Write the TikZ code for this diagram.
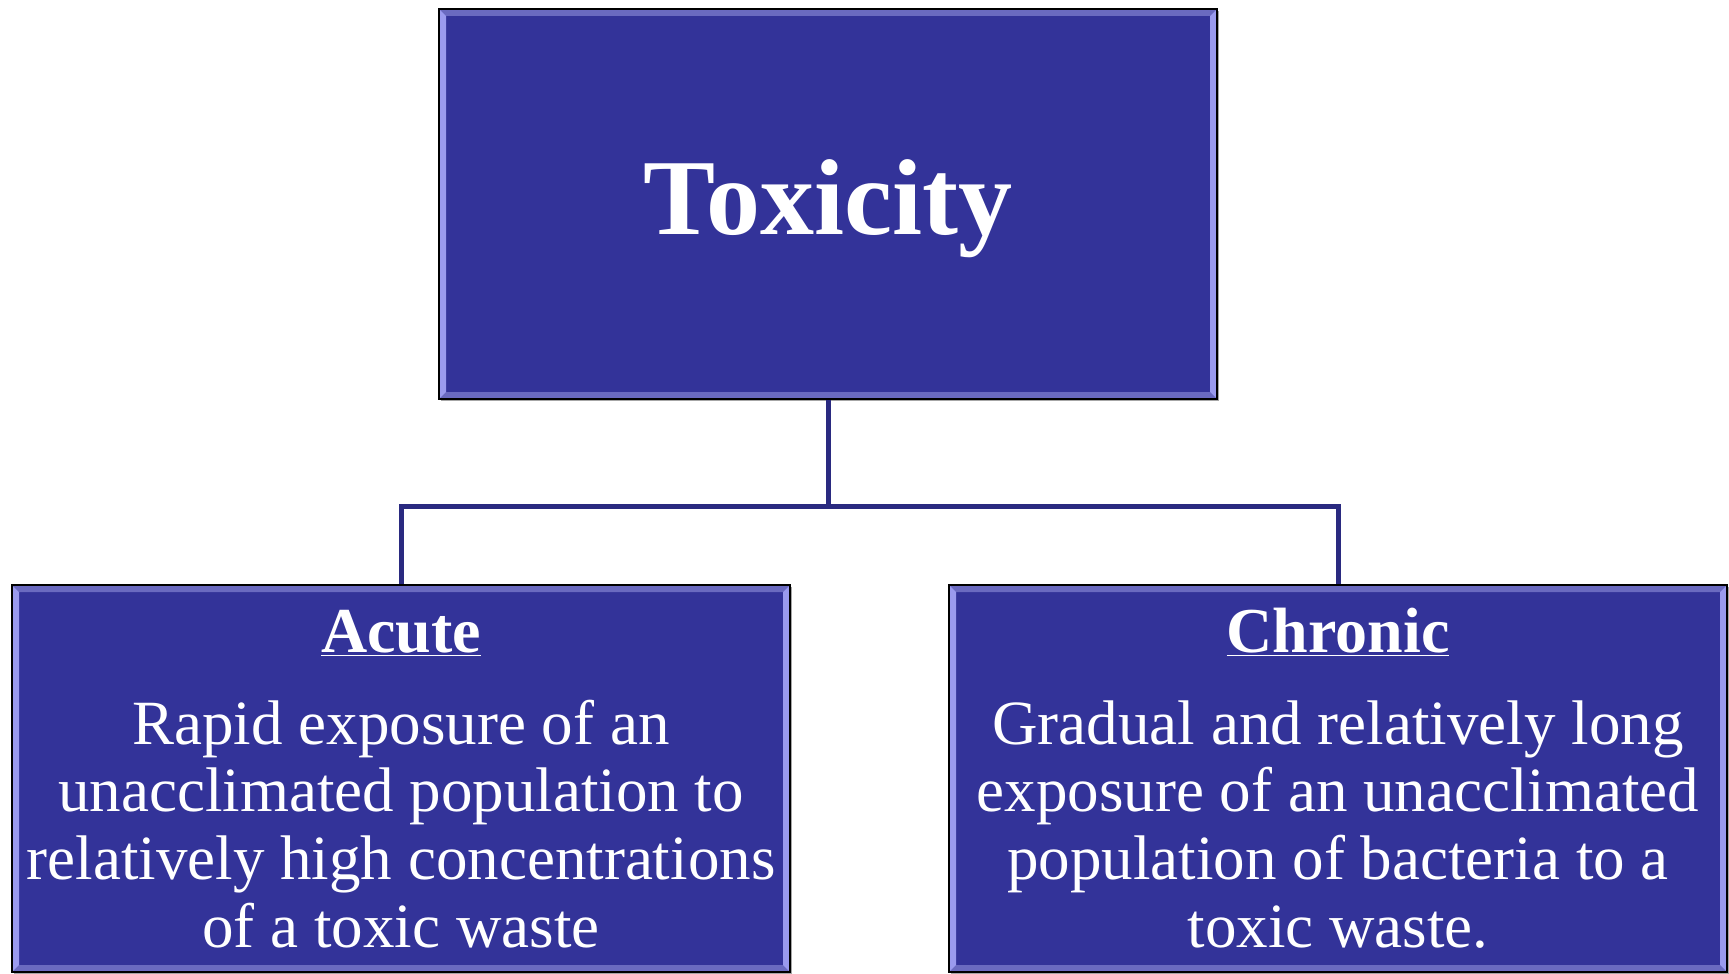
\documentclass[tikz,border=0pt]{standalone}
\usepackage{fontspec}
\setmainfont{Liberation Serif}
\usetikzlibrary{shadows}
\definecolor{boxblue}{HTML}{333399}
\definecolor{linkblue}{HTML}{2A2A80}
\definecolor{bevlight}{HTML}{9A9AEE}
\definecolor{bevmid}{HTML}{6A6AC0}
\tikzset{
  box/.style={draw=black, line width=1pt, fill=boxblue, inner sep=0pt,
    drop shadow={shadow xshift=1pt, shadow yshift=-1pt, opacity=.35, fill=black},
    path picture={
      \fill[bevmid] (path picture bounding box.north west) -- (path picture bounding box.north east)
        -- ([shift={(-3.5pt,-3.5pt)}]path picture bounding box.north east) -- ([shift={(3.5pt,-3.5pt)}]path picture bounding box.north west) -- cycle;
      \fill[bevmid] (path picture bounding box.south west) -- (path picture bounding box.south east)
        -- ([shift={(-3.5pt,3.5pt)}]path picture bounding box.south east) -- ([shift={(3.5pt,3.5pt)}]path picture bounding box.south west) -- cycle;
      \fill[bevlight] (path picture bounding box.north west) -- (path picture bounding box.south west)
        -- ([shift={(3.5pt,3.5pt)}]path picture bounding box.south west) -- ([shift={(3.5pt,-3.5pt)}]path picture bounding box.north west) -- cycle;
      \fill[bevlight] (path picture bounding box.north east) -- (path picture bounding box.south east)
        -- ([shift={(-3.5pt,3.5pt)}]path picture bounding box.south east) -- ([shift={(-3.5pt,-3.5pt)}]path picture bounding box.north east) -- cycle;
    }},
  head/.style={text=white, inner sep=0pt, anchor=base, font=\bfseries\fontsize{32}{36}\selectfont},
  body/.style={text=white, inner sep=0pt, anchor=base, align=center, font=\fontsize{31.5}{33.8}\selectfont},
  link/.style={draw=linkblue, line width=2.5pt}
}
\begin{document}
\begin{tikzpicture}[x=0.5pt, y=-0.5pt]
  \useasboundingbox (0,0) rectangle (1729,974);

  \coordinate (split) at (828,506);

  \node[box, minimum width=389pt, minimum height=195pt] (top) at (828,204) {};
  \node[box, minimum width=389pt, minimum height=193.5pt] (acute) at (401,778.5) {};
  \node[box, minimum width=389pt, minimum height=193.5pt] (chronic) at (1338,778.5) {};

  \draw[link] (top.south) -- (split);
  \draw[link] (acute.north) |- (split) -| (chronic.north);

  \node[text=white, inner sep=0pt, anchor=base, font=\bfseries\fontsize{54}{60}\selectfont] (toxicity) at (828,234) {Toxicity};

  \node[head] (acutehead) at (401,652) {\underline{Acute}};
  \node[body] (acutetext) at (401,947) {Rapid exposure of an\\unacclimated population to\\relatively high concentrations\\of a toxic waste};

  \node[head] (chronichead) at (1338,652) {\underline{Chronic}};
  \node[body] (chronictext) at (1338,947) {Gradual and relatively long\\exposure of an unacclimated\\population of bacteria to a\\toxic waste.};
\end{tikzpicture}
\end{document}
